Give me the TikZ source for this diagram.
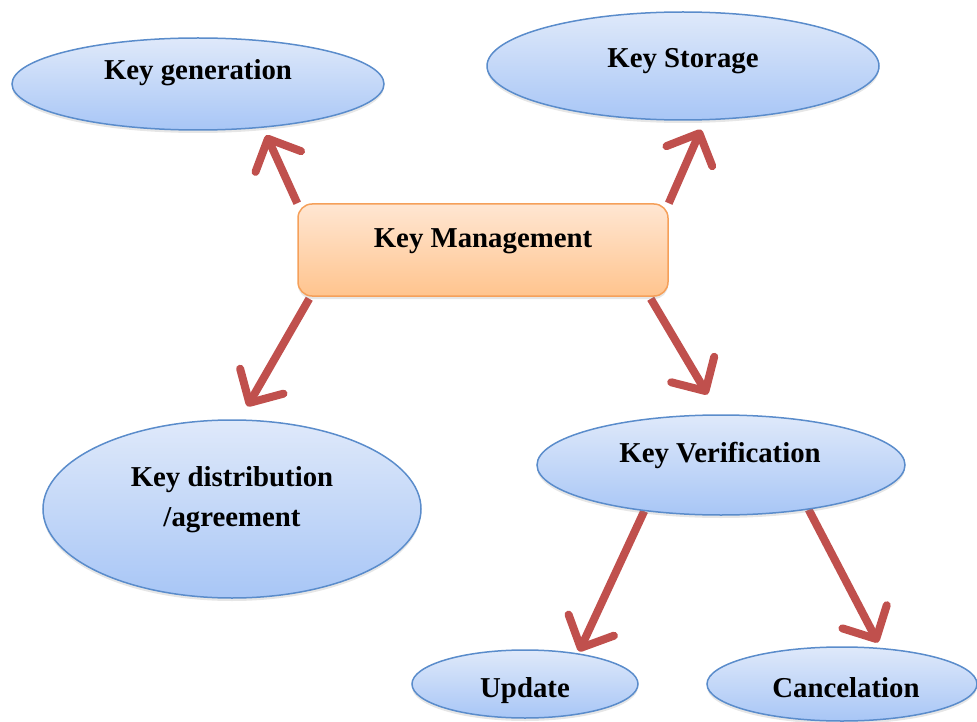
\documentclass[tikz,border=0pt]{standalone}
\usepackage{fontspec}
\setmainfont{Liberation Serif}
\usetikzlibrary{shapes.geometric,arrows.meta,backgrounds,shadows,calc}

\definecolor{ovalTop}{HTML}{DFE9FA}
\definecolor{ovalBot}{HTML}{A8C6F6}
\definecolor{ovalLine}{HTML}{5A8CCB}
\definecolor{boxTop}{HTML}{FFE6D2}
\definecolor{boxBot}{HTML}{FFC48E}
\definecolor{boxLine}{HTML}{F5A05A}
\definecolor{linkRed}{HTML}{C0504D}

\tikzset{
  oval/.style={ellipse, draw=ovalLine, line width=1.5pt, inner sep=0pt,
    top color=ovalTop, bottom color=ovalBot,
    drop shadow={opacity=0.2, shadow xshift=0pt, shadow yshift=-3pt}},
  mgmtbox/.style={rectangle, rounded corners=14pt, draw=boxLine, line width=1.5pt,
    top color=boxTop, bottom color=boxBot, inner sep=0pt,
    minimum width=370pt, minimum height=92pt,
    drop shadow={opacity=0.2, shadow xshift=0pt, shadow yshift=-3pt}},
  caption/.style={font=\fontsize{28.8}{40}\selectfont\bfseries, text=black,
    inner sep=0pt, align=center},
  link/.style={draw=linkRed, line width=8pt,
    -{Straight Barb[length=25pt, width=50pt, line cap=round, line join=round]}},
}

\begin{document}
\begin{tikzpicture}[x=1pt, y=-1pt]
\useasboundingbox (0,0) rectangle (977,722);

% shapes
\node[oval, minimum width=372pt, minimum height=92pt]  (gen) at (198,84)  {};
\node[oval, minimum width=392pt, minimum height=108pt] (sto) at (683,66)  {};
\node[mgmtbox] (km) at (483,250) {};
\node[oval, minimum width=378pt, minimum height=178pt] (dist) at (232,509) {};
\node[oval, minimum width=368pt, minimum height=100pt] (ver) at (721,465) {};
\node[oval, minimum width=226pt, minimum height=68pt]  (upd) at (525,684) {};
\node[oval, minimum width=270pt, minimum height=74pt]  (can) at (842,684) {};

% captions
\node[caption] (genT)  at (198,73)  {Key generation};
\node[caption] (stoT)  at (683,61)  {Key Storage};
\node[caption] (kmT)   at (483,241) {Key Management};
\node[caption] (distT) at (232,500) {Key distribution\\/agreement};
\node[caption] (verT)  at (720,455) {Key Verification};
\node[caption] (updT)  at (525,691) {Update};
\node[caption] (canT)  at (846,688) {Cancelation};

% connectors, drawn beneath the shapes
\begin{scope}[on background layer]
  \draw[link, shorten >=8pt]  (km.north west) -- (gen.-34);
  \draw[link, shorten >=10pt] (km.north east) -- (sto.-68);
  \draw[link, shorten >=15pt] ($(km.south west)+(12,2)$) -- (dist.85);
  \draw[link, shorten >=23pt] ($(km.south east)+(-18,2)$) -- (ver.92);
  \draw[link, shorten >=2pt]  (ver.-149) -- (upd.30);
  \draw[link, shorten >=6pt]  (ver.-27) -- (can.43);
\end{scope}
\end{tikzpicture}
\end{document}
